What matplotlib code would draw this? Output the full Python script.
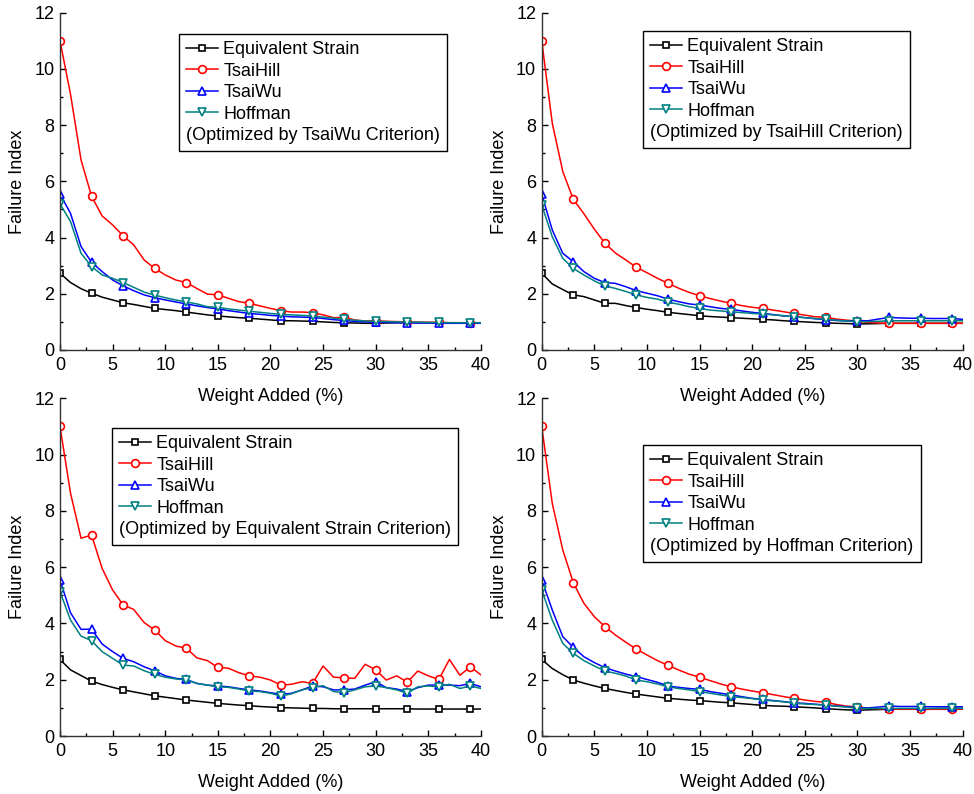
import matplotlib
matplotlib.use("Agg")
import matplotlib.pyplot as plt
from matplotlib.ticker import MultipleLocator

plt.rcParams['font.family'] = ['Liberation Sans', 'DejaVu Sans']

weight = list(range(0, 41))  # Weight Added (%)
series_names = ["Equivalent Strain", "TsaiHill", "TsaiWu", "Hoffman"]

# Optimized by TsaiWu
tw_opt_es = [2.73, 2.40, 2.18, 2.02, 1.88, 1.78, 1.68, 1.62, 1.55, 1.48,
             1.44, 1.40, 1.35, 1.30, 1.25, 1.21, 1.18, 1.15, 1.13, 1.10,
             1.07, 1.04, 1.04, 1.03, 1.02, 1.00, 0.98, 0.97, 0.96, 0.95,
             0.95, 0.96, 0.97, 0.97, 0.97, 0.97, 0.97, 0.97, 0.97, 0.97, 0.97]
tw_opt_th = [11.0, 9.10, 6.76, 5.47, 4.77, 4.45, 4.06, 3.74, 3.20, 2.90,
             2.67, 2.49, 2.40, 2.19, 1.99, 1.96, 1.84, 1.72, 1.66, 1.57,
             1.48, 1.40, 1.35, 1.35, 1.33, 1.25, 1.15, 1.16, 1.07, 1.03,
             1.04, 1.02, 1.01, 1.00, 0.99, 0.99, 0.98, 0.97, 0.97, 0.96, 0.96]
tw_opt_tw = [5.55, 4.86, 3.68, 3.12, 2.79, 2.49, 2.28, 2.11, 1.96, 1.86,
             1.78, 1.71, 1.64, 1.57, 1.51, 1.46, 1.40, 1.35, 1.30, 1.27,
             1.23, 1.21, 1.18, 1.17, 1.16, 1.12, 1.08, 1.05, 1.02, 1.00,
             0.99, 0.98, 0.97, 0.97, 0.96, 0.96, 0.95, 0.95, 0.95, 0.95, 0.95]
tw_opt_hf = [5.20, 4.57, 3.44, 2.97, 2.67, 2.55, 2.40, 2.23, 2.06, 1.95,
             1.86, 1.78, 1.71, 1.64, 1.54, 1.52, 1.46, 1.42, 1.38, 1.34,
             1.30, 1.27, 1.25, 1.23, 1.21, 1.17, 1.13, 1.09, 1.06, 1.03,
             1.02, 1.01, 1.00, 0.99, 0.99, 0.98, 0.98, 0.97, 0.97, 0.97, 0.97]

# Optimized by TsaiHill
th_opt_es = [2.73, 2.35, 2.15, 1.96, 1.90, 1.78, 1.66, 1.66, 1.58, 1.51,
             1.45, 1.40, 1.34, 1.30, 1.26, 1.22, 1.19, 1.17, 1.15, 1.13,
             1.11, 1.09, 1.07, 1.04, 1.02, 1.00, 0.98, 0.97, 0.95, 0.94,
             0.93, 0.93, 0.94, 0.95, 0.95, 0.95, 0.95, 0.95, 0.95, 0.95, 0.95]
th_opt_th = [11.0, 8.07, 6.35, 5.36, 4.85, 4.30, 3.80, 3.45, 3.20, 2.94,
             2.75, 2.55, 2.37, 2.20, 2.05, 1.93, 1.83, 1.74, 1.66, 1.58,
             1.52, 1.48, 1.42, 1.36, 1.30, 1.24, 1.18, 1.17, 1.10, 1.06,
             1.03, 0.98, 0.96, 0.95, 0.95, 0.95, 0.95, 0.95, 0.95, 0.95, 0.95]
th_opt_tw = [5.55, 4.27, 3.44, 3.14, 2.79, 2.55, 2.40, 2.37, 2.25, 2.11,
             2.02, 1.93, 1.81, 1.72, 1.64, 1.60, 1.54, 1.48, 1.45, 1.39,
             1.34, 1.30, 1.26, 1.21, 1.19, 1.15, 1.11, 1.08, 1.05, 1.03,
             1.04, 1.04, 1.10, 1.16, 1.14, 1.13, 1.13, 1.12, 1.12, 1.12, 1.09]
th_opt_hf = [5.16, 4.03, 3.26, 2.90, 2.67, 2.46, 2.28, 2.19, 2.08, 1.96,
             1.87, 1.81, 1.70, 1.63, 1.54, 1.48, 1.42, 1.39, 1.36, 1.33,
             1.30, 1.28, 1.25, 1.22, 1.18, 1.15, 1.12, 1.09, 1.06, 1.03,
             1.01, 1.01, 1.02, 1.04, 1.04, 1.04, 1.04, 1.04, 1.04, 1.04, 1.04]

# Optimized by Equivalent Strain
es_opt_es = [2.72, 2.35, 2.15, 1.95, 1.83, 1.73, 1.64, 1.57, 1.50, 1.43,
             1.38, 1.33, 1.28, 1.24, 1.20, 1.16, 1.13, 1.10, 1.08, 1.05,
             1.03, 1.01, 1.00, 0.99, 0.98, 0.98, 0.97, 0.97, 0.97, 0.97,
             0.97, 0.97, 0.97, 0.97, 0.96, 0.96, 0.96, 0.96, 0.96, 0.96, 0.96]
es_opt_th = [11.0, 8.63, 7.03, 7.14, 5.96, 5.19, 4.66, 4.50, 4.03, 3.77,
             3.39, 3.20, 3.12, 2.78, 2.68, 2.44, 2.41, 2.25, 2.14, 2.09,
             1.99, 1.81, 1.84, 1.93, 1.87, 2.49, 2.09, 2.07, 2.05, 2.55,
             2.35, 1.99, 2.14, 1.91, 2.31, 2.14, 2.01, 2.72, 2.16, 2.46, 2.17]
es_opt_tw = [5.55, 4.38, 3.79, 3.80, 3.27, 3.00, 2.76, 2.64, 2.46, 2.32,
             2.14, 2.05, 2.01, 1.87, 1.81, 1.78, 1.75, 1.69, 1.64, 1.60,
             1.54, 1.48, 1.52, 1.64, 1.78, 1.75, 1.64, 1.64, 1.67, 1.81,
             1.93, 1.72, 1.67, 1.58, 1.72, 1.81, 1.81, 1.81, 1.79, 1.87, 1.75]
es_opt_hf = [5.13, 4.12, 3.55, 3.39, 3.00, 2.76, 2.52, 2.49, 2.32, 2.19,
             2.09, 2.03, 1.99, 1.87, 1.81, 1.75, 1.73, 1.67, 1.60, 1.58,
             1.52, 1.42, 1.50, 1.64, 1.72, 1.79, 1.58, 1.54, 1.64, 1.75,
             1.78, 1.72, 1.64, 1.52, 1.75, 1.78, 1.75, 1.84, 1.69, 1.78, 1.69]

# Optimized by Hoffman
hf_opt_es = [2.72, 2.40, 2.18, 1.99, 1.88, 1.78, 1.69, 1.62, 1.55, 1.49,
             1.44, 1.39, 1.34, 1.31, 1.28, 1.26, 1.23, 1.20, 1.18, 1.15,
             1.12, 1.09, 1.07, 1.06, 1.04, 1.02, 1.00, 0.97, 0.95, 0.93,
             0.92, 0.93, 0.94, 0.95, 0.96, 0.96, 0.97, 0.97, 0.98, 0.98, 0.98]
hf_opt_th = [11.0, 8.27, 6.61, 5.45, 4.72, 4.24, 3.89, 3.59, 3.33, 3.09,
             2.88, 2.68, 2.51, 2.35, 2.20, 2.09, 1.97, 1.85, 1.75, 1.67,
             1.60, 1.54, 1.47, 1.40, 1.34, 1.28, 1.23, 1.20, 1.12, 1.06,
             1.04, 0.99, 0.97, 0.96, 0.95, 0.95, 0.95, 0.95, 0.95, 0.95, 0.95]
hf_opt_tw = [5.55, 4.48, 3.53, 3.15, 2.82, 2.61, 2.43, 2.31, 2.20, 2.11,
             2.01, 1.91, 1.78, 1.73, 1.69, 1.66, 1.58, 1.52, 1.46, 1.40,
             1.34, 1.30, 1.26, 1.22, 1.18, 1.16, 1.13, 1.10, 1.07, 1.04,
             1.01, 1.00, 1.03, 1.07, 1.05, 1.05, 1.05, 1.04, 1.04, 1.04, 1.04]
hf_opt_hf = [5.19, 4.12, 3.29, 2.94, 2.68, 2.49, 2.31, 2.23, 2.13, 1.99,
             1.93, 1.85, 1.75, 1.69, 1.64, 1.58, 1.52, 1.46, 1.40, 1.37,
             1.33, 1.28, 1.25, 1.22, 1.16, 1.14, 1.12, 1.10, 1.06, 1.03,
             0.98, 0.98, 0.98, 0.98, 0.98, 0.98, 0.98, 0.98, 0.98, 0.98, 0.98]

colors = ["black", "#ff0000", "#0000ff", "#008080"]
markers = ["s", "o", "^", "v"]
msizes = [4.6, 5.6, 5.8, 5.8]


def plot_panel(ax, data, note, legend_xy):
    handles = []
    for vals, name, c, m, s in zip(data, series_names, colors, markers, msizes):
        h, = ax.plot(weight, vals, color=c, lw=1.1, marker=m, markevery=3,
                     ms=s, mfc="white", mec=c, mew=1.2, label=name)
        handles.append(h)
    ax.patch.set_visible(False)
    ax.set_xlim(0, 40)
    ax.set_ylim(0, 12)
    ax.xaxis.set_major_locator(MultipleLocator(5))
    ax.xaxis.set_minor_locator(MultipleLocator(2.5))
    ax.yaxis.set_major_locator(MultipleLocator(2))
    ax.yaxis.set_minor_locator(MultipleLocator(1))
    ax.tick_params(which="both", direction="in", labelsize=13, width=1)
    ax.tick_params(which="major", length=4, pad=4)
    ax.tick_params(which="minor", length=2.5)
    ax.tick_params(axis="x", which="major", pad=5)
    ax.spines["top"].set_visible(False)
    ax.spines["right"].set_visible(False)
    for s in ("left", "bottom"):
        ax.spines[s].set_linewidth(1.0)
        ax.spines[s].set_color("#333333")
    ax.set_xlabel("Weight Added (%)", fontsize=13, labelpad=10)
    ax.set_ylabel("Failure Index", fontsize=13, labelpad=6)

    leg = ax.legend(handles=handles, loc="upper left",
                    bbox_to_anchor=(legend_xy[0] / 974, 1 - legend_xy[1] / 794),
                    bbox_transform=ax.figure.transFigure, borderaxespad=0,
                    fontsize=13, title=note, title_fontsize=13,
                    alignment="left", fancybox=False, framealpha=1,
                    edgecolor="black", handlelength=1.75, handletextpad=0.3,
                    labelspacing=0.25, borderpad=0.4)
    leg.get_frame().set_linewidth(1.0)
    # put the note below the entries
    box = leg._legend_box
    box._children = box._children[::-1]
    box.sep = 3


fig = plt.figure(figsize=(9.74, 7.94), dpi=100)
ax1 = fig.add_axes([0.0616, 0.5592, 0.4322, 0.4248])
ax2 = fig.add_axes([0.5562, 0.5592, 0.4322, 0.4248])
ax3 = fig.add_axes([0.0616, 0.0730, 0.4322, 0.4253])
ax4 = fig.add_axes([0.5562, 0.0730, 0.4322, 0.4253])

plot_panel(ax1, [tw_opt_es, tw_opt_th, tw_opt_tw, tw_opt_hf],
           "(Optimized by TsaiWu Criterion)", (179, 34))
plot_panel(ax2, [th_opt_es, th_opt_th, th_opt_tw, th_opt_hf],
           "(Optimized by TsaiHill Criterion)", (643, 31))
plot_panel(ax3, [es_opt_es, es_opt_th, es_opt_tw, es_opt_hf],
           "(Optimized by Equivalent Strain Criterion)", (112, 428))
plot_panel(ax4, [hf_opt_es, hf_opt_th, hf_opt_tw, hf_opt_hf],
           "(Optimized by Hoffman Criterion)", (643, 445))

fig.savefig("out.png", dpi=100)
plt.close(fig)
